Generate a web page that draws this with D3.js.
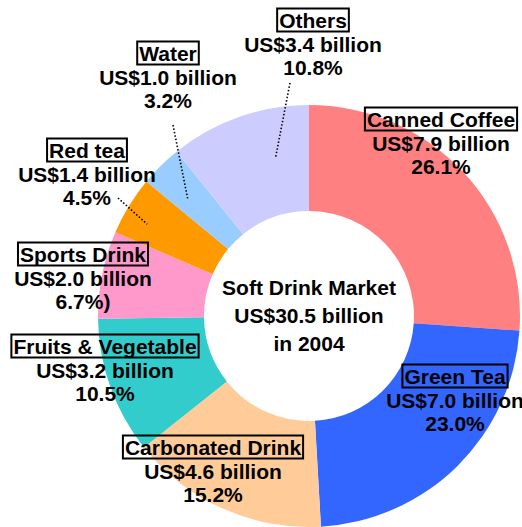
<!DOCTYPE html>
<html>
<head>
<meta charset="utf-8">
<script src="https://cdn.jsdelivr.net/npm/d3@7"></script>
<style>
  body { margin: 0; background: #fff; }
  svg { display: block; }
  text { font-family: "Liberation Sans", Arial, sans-serif; font-weight: bold; fill: #000; }
</style>
</head>
<body>
<div id="chart"></div>
<script>
// soft drink market 2004, by category (clockwise from 12 o'clock)
const categories = ["Canned Coffee", "Green Tea", "Carbonated Drink", "Fruits & Vegetable", "Sports Drink", "Red tea", "Water", "Others"];
const sales = [7.9, 7.0, 4.6, 3.2, 2.0, 1.4, 1.0, 3.4];          // US$ billion
const shares = [26.1, 23.0, 15.2, 10.5, 6.7, 4.5, 3.2, 10.8];    // percent
const shareLabels = ["26.1%", "23.0%", "15.2%", "10.5%", "6.7%)", "4.5%", "3.2%", "10.8%"];
const colors = ["#ff8080", "#3366ff", "#ffcc99", "#33cccc", "#ff99cc", "#ff9900", "#99ccff", "#ccccff"];
const centerLines = ["Soft Drink Market", "US$30.5 billion", "in 2004"];

const width = 522, height = 527;
const cx = 309, cy = 316;
const outerR = 211, innerR = 105;
const fontSize = 21;

// where each label sits (title centre), and the dotted leaders for the small slices
const labelPos = {
    "Canned Coffee": [441, 119],
    "Green Tea": [455, 376],
    "Carbonated Drink": [213, 447],
    "Fruits & Vegetable": [105, 346],
    "Sports Drink": [83, 254],
    "Red tea": [87, 150],
    "Water": [168, 53],
    "Others": [313, 20]
};
const leaders = {
    "Others": { from: [290, 83], t: 0.69, r: 161 },
    "Water": { from: [173, 125], t: 0.39, r: 169 },
    "Red tea": { from: [118, 198], t: 0.38, r: 186 }
};

let data = categories.map((c, i) => ({ name: c, sales: sales[i], share: shares[i], pct: shareLabels[i], color: colors[i] }));

let svg = d3.select("#chart").append("svg").attr("width", width).attr("height", height);

let pie = d3.pie().sort(null).value(d => d.share);
let arcs = pie(data);
let arc = d3.arc().innerRadius(innerR).outerRadius(outerR);

let g = svg.append("g").attr("transform", `translate(${cx},${cy})`);
g.selectAll("path").data(arcs).enter().append("path")
    .attr("d", arc)
    .attr("fill", d => d.data.color);

// leaders
arcs.forEach(a => {
    let l = leaders[a.data.name];
    if (!l) return;
    let ang = a.startAngle + (a.endAngle - a.startAngle) * l.t;
    let x2 = cx + l.r * Math.sin(ang), y2 = cy - l.r * Math.cos(ang);
    svg.append("line")
        .attr("x1", l.from[0]).attr("y1", l.from[1])
        .attr("x2", x2).attr("y2", y2)
        .attr("stroke", "#000").attr("stroke-width", 1.6)
        .attr("stroke-dasharray", "1.5,2");
});

// labels
data.forEach(d => {
    let [x, y] = labelPos[d.name];
    let title = svg.append("text")
        .attr("x", x).attr("y", y + 7.5)
        .attr("text-anchor", "middle")
        .attr("font-size", fontSize)
        .text(d.name);
    let w = title.node().getComputedTextLength();
    // squeeze title if it would run off the right edge
    let maxW = 2 * (width - 6 - x);
    if (w > maxW) {
        title.attr("textLength", maxW).attr("lengthAdjust", "spacingAndGlyphs");
        w = maxW;
    }
    svg.append("rect")
        .attr("x", x - w / 2 - 2).attr("y", y - 11.5)
        .attr("width", w + 4).attr("height", 23)
        .attr("fill", "none").attr("stroke", "#000").attr("stroke-width", 2);

    svg.append("text")
        .attr("x", x).attr("y", y + 24 + 7.5)
        .attr("text-anchor", "middle").attr("font-size", fontSize)
        .text("US$" + d.sales.toFixed(1) + " billion");
    svg.append("text")
        .attr("x", x).attr("y", y + 47 + 7.5)
        .attr("text-anchor", "middle").attr("font-size", fontSize)
        .text(d.pct);
});

// centre text
centerLines.forEach((t, i) => {
    svg.append("text")
        .attr("x", cx).attr("y", 287 + i * 28 + 7.5)
        .attr("text-anchor", "middle").attr("font-size", fontSize)
        .text(t);
});
</script>
</body>
</html>
